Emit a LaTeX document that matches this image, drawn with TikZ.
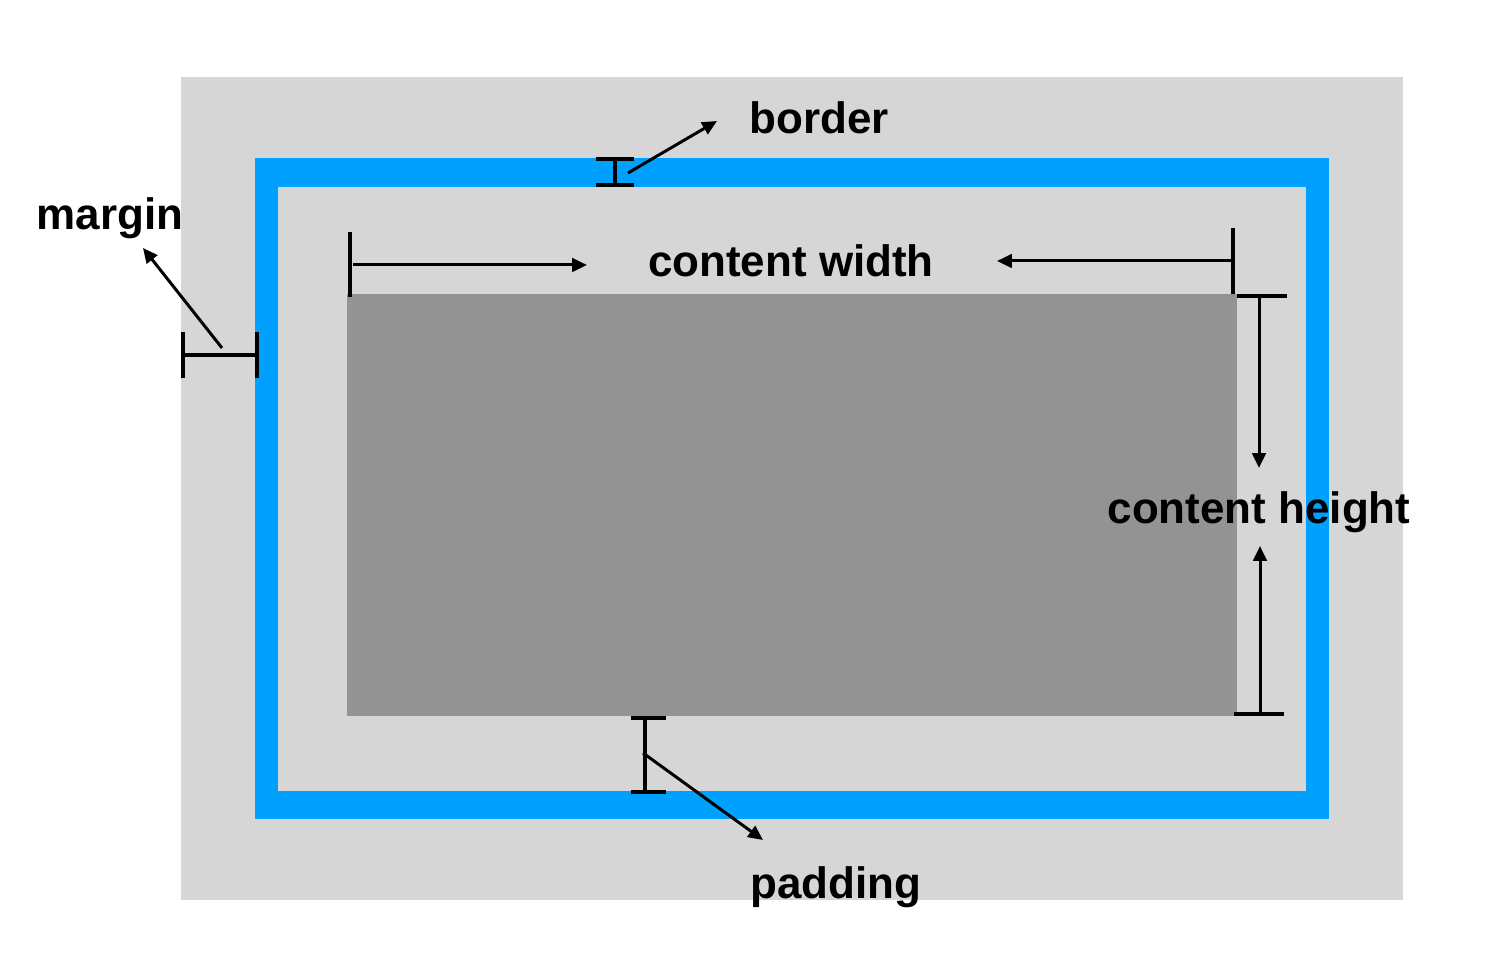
\documentclass[tikz,border=0pt]{standalone}
\usepackage{fontspec}
\setmainfont{Liberation Sans}
\usetikzlibrary{arrows.meta, positioning}
\definecolor{boxgray}{RGB}{214,214,214}
\definecolor{boxblue}{RGB}{0,160,255}
\definecolor{contentgray}{RGB}{147,147,147}

\begin{document}
\begin{tikzpicture}[x=0.01cm, y=-0.01cm,
  lbl/.style={font=\fontsize{12.5}{15}\selectfont\bfseries, inner sep=0pt},
  bar/.style={line width=1pt, black},
  pointer/.style={line width=0.85pt, black, -{Triangle[length=4.2pt,width=3.8pt]}}]
  \useasboundingbox (0,0) rectangle (1490,962);
  % box layers
  \fill[boxgray] (181,77) rectangle (1403,900);
  \fill[boxblue] (255,158) rectangle (1329,819);
  \fill[boxgray] (278,187) rectangle (1306,791);
  \fill[contentgray] (347,294) rectangle (1237,716);

  % labels
  \node[lbl] (border) at (819,118) {border};
  \node[lbl] (margin) at (110,218) {margin};
  \node[lbl] (padding) at (836,887) {padding};
  \node[lbl] (cwidth) at (791,261) {content width};
  \node[lbl] (cheight) at (1259,512) {content height};

  % border marker
  \draw[bar] (596,159) -- (634,159);
  \draw[bar] (596,185) -- (634,185);
  \draw[bar] (615,159) -- (615,185);
  \coordinate (borderend) at (717,121);
  \draw[pointer] (628,173) -- (borderend);

  % margin marker
  \draw[bar] (183,332) -- (183,378);
  \draw[bar] (257,332) -- (257,378);
  \draw[bar] (183,355) -- (257,355);
  \coordinate (marginend) at (143,248);
  \draw[pointer] (222,348) -- (marginend);

  % padding marker
  \draw[bar] (631,718) -- (666,718);
  \draw[bar] (631,792) -- (666,792);
  \draw[bar] (645,720) -- (645,790);
  \coordinate (paddingend) at (763,840);
  \draw[pointer] (643,753) -- (paddingend);

  % content width
  \draw[bar] (350,232) -- (350,297);
  \draw[bar] (1233,228) -- (1233,294);
  \coordinate (cwleft) at (587,265);
  \coordinate (cwright) at (997,261);
  \draw[pointer] (353,265) -- (cwleft);
  \draw[pointer] (1231,261) -- (cwright);

  % content height
  \draw[bar] (1237,296) -- (1287,296);
  \draw[bar] (1234,714) -- (1284,714);
  \coordinate (chtop) at (1259,468);
  \coordinate (chbottom) at (1260,546);
  \draw[pointer] (1259,297) -- (chtop);
  \draw[pointer] (1260,712) -- (chbottom);
\end{tikzpicture}
\end{document}
